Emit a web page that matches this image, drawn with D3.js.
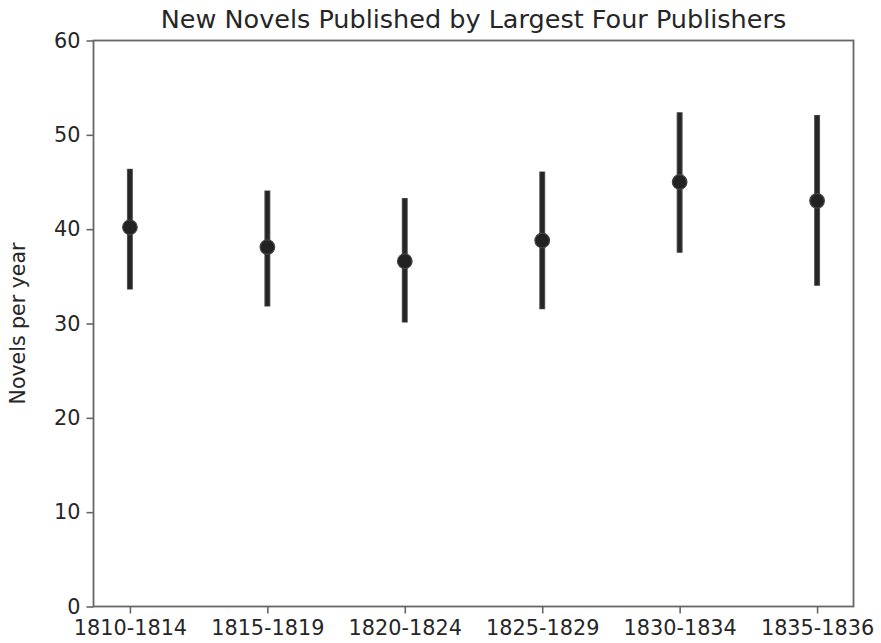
<!DOCTYPE html>
<html><head><meta charset="utf-8">
<script src="https://cdn.jsdelivr.net/npm/d3@7"></script>
<style>body{margin:0;background:#fff}svg{display:block}text{font-family:"DejaVu Sans",sans-serif;fill:#262626}</style>
</head><body>
<svg id="c" width="881" height="643"></svg>
<script>
const categories = ["1810-1814","1815-1819","1820-1824","1825-1829","1830-1834","1835-1836"];
const means = [40.2, 38.1, 36.6, 38.8, 45.0, 43.0];
const lows  = [33.6, 31.8, 30.1, 31.5, 37.5, 34.0];
const highs = [46.4, 44.1, 43.3, 46.1, 52.4, 52.1];
const yTicks = [0,10,20,30,40,50,60];

const svg = d3.select("#c");
const L = 93.5, R = 853.5, T = 40.5, B = 606.5;
const x = d3.scaleLinear().domain([-0.265, 5.265]).range([L, R]);
const y = d3.scaleLinear().domain([0, 60]).range([B, T]);

const spine = "#666";
const ya = svg.append("g").attr("transform", `translate(${L},0)`)
  .call(d3.axisLeft(y).tickValues(yTicks).tickSize(7).tickPadding(6));
const xa = svg.append("g").attr("transform", `translate(0,${B})`)
  .call(d3.axisBottom(x).tickValues(d3.range(categories.length)).tickFormat(i => categories[i]).tickSize(7).tickPadding(7));
[ya, xa].forEach(g => {
  g.select(".domain").remove();
  g.selectAll(".tick line").attr("stroke", spine).attr("stroke-width", 1.6);
  g.selectAll(".tick text").style("font-size", "20.8px").attr("fill", "#262626");
});
svg.append("rect").attr("x", L).attr("y", T).attr("width", R - L).attr("height", B - T)
  .attr("fill", "none").attr("stroke", spine).attr("stroke-width", 1.8);

const g = svg.append("g");
categories.forEach((c, i) => {
  g.append("line").attr("x1", x(i)).attr("x2", x(i)).attr("y1", y(lows[i])).attr("y2", y(highs[i]))
    .attr("stroke", "#555").attr("stroke-width", 6);
  g.append("line").attr("x1", x(i)).attr("x2", x(i)).attr("y1", y(lows[i]) - 0.5).attr("y2", y(highs[i]) + 0.5)
    .attr("stroke", "#262626").attr("stroke-width", 4);
  g.append("circle").attr("cx", x(i)).attr("cy", y(means[i])).attr("r", 7.3)
    .attr("fill", "#222").attr("stroke", "#444").attr("stroke-width", 1.2);
});

svg.append("text").attr("x", (L + R) / 2).attr("y", 28).attr("text-anchor", "middle")
  .style("font-size", "25.5px").text("New Novels Published by Largest Four Publishers");
svg.append("text").attr("transform", `translate(25,${(T + B) / 2}) rotate(-90)`)
  .attr("text-anchor", "middle").style("font-size", "20.5px").text("Novels per year");
</script>
</body></html>
